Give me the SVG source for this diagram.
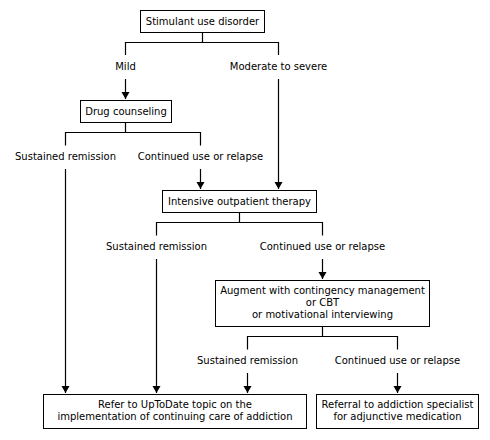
<svg xmlns="http://www.w3.org/2000/svg" width="490" height="440" viewBox="0 0 490 440">
<defs>
<style>
text{font-family:"DejaVu Sans",Verdana,sans-serif;font-size:10px;fill:#000;text-anchor:middle}
.box{fill:#fff;stroke:#000;stroke-width:1}
.ln{fill:none;stroke:#000;stroke-width:1.2}
</style>
<marker id="ah" markerWidth="8" markerHeight="10" refX="7" refY="4" orient="auto" markerUnits="userSpaceOnUse">
<path d="M0,0 L7,4 L0,8 z" fill="#000"/>
</marker>
</defs>
<rect width="490" height="440" fill="#fff"/>
<g id="connectors">
<path class="ln" d="M202.5,32.5 V42.5 M125.5,55 V42.5 H278.5 V55"/>
<path class="ln" d="M125.5,79 V99" marker-end="url(#ah)"/>
<path class="ln" d="M278.5,79 V189" marker-end="url(#ah)"/>
<path class="ln" d="M125.5,122.5 V132.5 M65.5,145.5 V132.5 H200.5 V145.5"/>
<path class="ln" d="M200.5,169 V189" marker-end="url(#ah)"/>
<path class="ln" d="M65.5,169 V393" marker-end="url(#ah)"/>
<path class="ln" d="M239.5,212.5 V222.5 M156.5,235.5 V222.5 H322.5 V235.5"/>
<path class="ln" d="M156.5,259 V393" marker-end="url(#ah)"/>
<path class="ln" d="M322.5,259 V279" marker-end="url(#ah)"/>
<path class="ln" d="M322.5,326.5 V336.5 M247.5,349.5 V336.5 H397.5 V349.5"/>
<path class="ln" d="M247.5,373 V393" marker-end="url(#ah)"/>
<path class="ln" d="M397.5,373 V393" marker-end="url(#ah)"/>
</g>
<g id="labels">
<text x="125.5" y="70">Mild</text>
<text x="278.5" y="70">Moderate to severe</text>
<text x="65.5" y="160">Sustained remission</text>
<text x="200.5" y="160">Continued use or relapse</text>
<text x="156.5" y="250">Sustained remission</text>
<text x="322.5" y="250">Continued use or relapse</text>
<text x="247.5" y="364">Sustained remission</text>
<text x="397.5" y="364">Continued use or relapse</text>
</g>
<g id="n-stimulant">
<rect class="box" x="140.5" y="10.5" width="124" height="22"/>
<text x="202.5" y="25">Stimulant use disorder</text>
</g>
<g id="n-counseling">
<rect class="box" x="80.5" y="100.5" width="91" height="22"/>
<text x="126" y="115">Drug counseling</text>
</g>
<g id="n-intensive">
<rect class="box" x="162.5" y="190.5" width="154" height="22"/>
<text x="239.5" y="205">Intensive outpatient therapy</text>
</g>
<g id="n-augment">
<rect class="box" x="215.5" y="280.5" width="214" height="46"/>
<text x="322.5" y="294">Augment with contingency management</text>
<text x="322.5" y="306">or CBT</text>
<text x="322.5" y="318">or motivational interviewing</text>
</g>
<g id="n-uptodate">
<rect class="box" x="43.5" y="394.5" width="263" height="34"/>
<text x="175" y="407.5">Refer to UpToDate topic on the</text>
<text x="175" y="419.5">implementation of continuing care of addiction</text>
</g>
<g id="n-referral">
<rect class="box" x="316.5" y="394.5" width="162" height="34"/>
<text x="397.5" y="407.5">Referral to addiction specialist</text>
<text x="397.5" y="419.5">for adjunctive medication</text>
</g>
</svg>
